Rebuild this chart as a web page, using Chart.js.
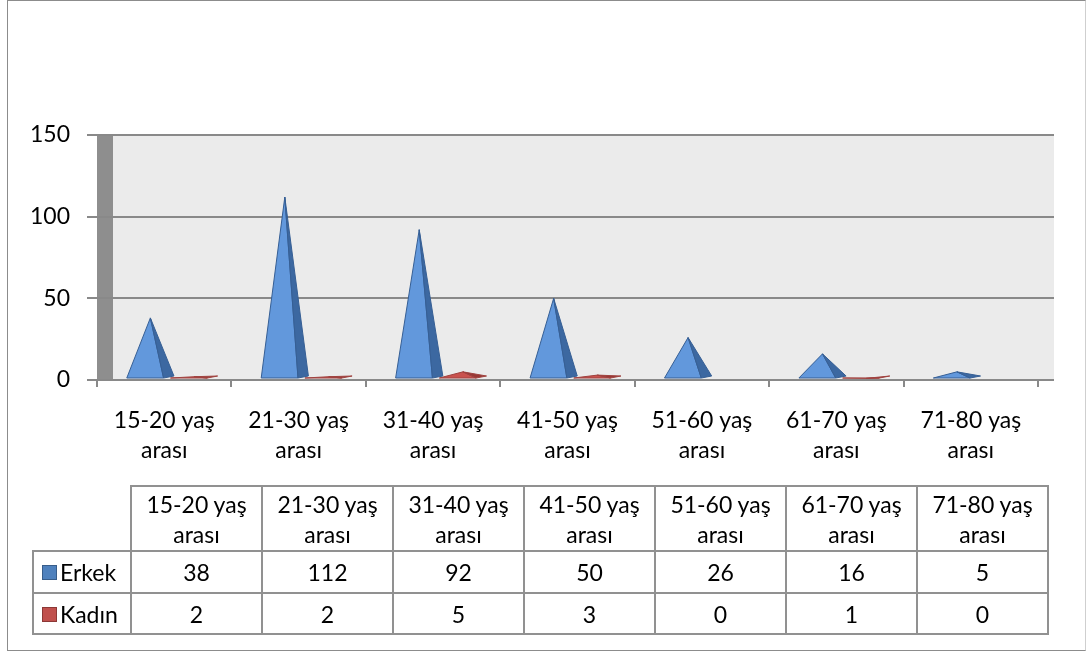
<!DOCTYPE html>
<html>
<head>
<meta charset="utf-8">
<script src="https://cdn.jsdelivr.net/npm/chart.js@4/dist/chart.umd.min.js"></script>
<style>
  html, body { margin: 0; padding: 0; background: #fff; }
  #wrap { position: relative; width: 1086px; height: 652px; overflow: hidden; font-family: Lato, "Open Sans", sans-serif; }
  #frame { position: absolute; left: 7px; top: 0; width: 1079px; height: 651px; box-sizing: border-box;
           border: 1px solid #8c8c8c; border-right-color: #cfcfcf; }
  #chart { position: absolute; left: 0; top: 0; }
  #tbl { position: absolute; left: 32px; top: 485px; border-collapse: collapse; table-layout: fixed;
         font-family: Lato, "Open Sans", sans-serif; font-size: 23px; color: #000; }
  #tbl td, #tbl th { border: 2px solid #919191; padding: 0; text-align: center; font-weight: normal;
                     line-height: 30px; vertical-align: middle; }
  #tbl tr.hd td { height: 63px; }
  #tbl tr.r1 td, #tbl tr.r1 th { height: 40px; }
  #tbl tr.r2 td, #tbl tr.r2 th { height: 39px; }
  #tbl td.corner { border-top: none; border-left: none; }
  #tbl th { text-align: left; padding-left: 8px; white-space: nowrap; }
  .sw { display: inline-block; width: 15px; height: 15px; margin-right: 3px; vertical-align: 1px; box-sizing: border-box; }
</style>
</head>
<body>
<div id="wrap">
  <div id="frame"></div>
  <canvas id="chart" width="1086" height="652"></canvas>
  <table id="tbl"></table>
</div>
<script>
// Age groups and counts per group
const ageGroups = ['15-20 yaş arası', '21-30 yaş arası', '31-40 yaş arası', '41-50 yaş arası',
                   '51-60 yaş arası', '61-70 yaş arası', '71-80 yaş arası'];
const erkek = [38, 112, 92, 50, 26, 16, 5];
const kadin = [2, 2, 5, 3, 0, 1, 0];
const seriesNames = ['Erkek', 'Kadın'];
const yTicks = [0, 50, 100, 150];

// Two-line label: "15-20 yaş" / "arası"
function splitLabel(s) {
  const i = s.lastIndexOf(' ');
  return [s.slice(0, i), s.slice(i + 1)];
}

const DEPTH = 16;          // horizontal depth of the 3D walls
const GRID = '#898989';
const FONT = { family: 'Lato', size: 23, lineHeight: 30 / 23 };

const palettes = [
  { light: '#6298dc', dark: '#3c68a1', edge: '#365f95', swatch: '#4f81bd', swEdge: '#385d8a' },
  { light: '#c9524e', dark: '#983835', edge: '#a04340', swatch: '#c0504d', swEdge: '#8c3836' }
];

// Walls, gridlines and floor of the 3D plot area
const wallsPlugin = {
  id: 'walls',
  beforeDatasetsDraw(chart) {
    const { ctx, chartArea: a, scales: { y } } = chart;
    ctx.save();
    ctx.fillStyle = '#ebebeb';
    ctx.fillRect(a.left + DEPTH, a.top, a.right - a.left, a.bottom - a.top);
    ctx.fillStyle = '#8e8e8e';
    ctx.fillRect(a.left, a.top, DEPTH, a.bottom - a.top);
    ctx.strokeStyle = GRID;
    ctx.lineWidth = 2;
    yTicks.forEach(v => {
      const py = Math.round(y.getPixelForValue(v));
      ctx.beginPath();
      ctx.moveTo(a.left, py);
      ctx.lineTo(a.right + DEPTH, py);
      ctx.stroke();
    });
    ctx.restore();
  },
  // Pyramids drawn over each bar element's position
  afterDatasetsDraw(chart) {
    const { ctx } = chart;
    ctx.save();
    for (let d = chart.data.datasets.length - 1; d >= 0; d--) {
      const meta = chart.getDatasetMeta(d);
      const pal = palettes[d];
      meta.data.forEach((el, i) => {
        if (!chart.data.datasets[d].data[i]) return;
        const cx = el.x + DEPTH / 2;
        const half = el.width * 0.6;
        const base = el.base - 1;
        const top = el.y;
        const split = cx + half * 0.56;
        ctx.lineJoin = 'round';
        ctx.beginPath();
        ctx.moveTo(cx - half, base);
        ctx.lineTo(split, base);
        ctx.lineTo(cx, top);
        ctx.closePath();
        ctx.fillStyle = pal.light;
        ctx.fill();
        ctx.strokeStyle = pal.edge;
        ctx.lineWidth = 1;
        ctx.stroke();
        ctx.beginPath();
        ctx.moveTo(split, base);
        ctx.lineTo(cx + half, base - 2);
        ctx.lineTo(cx, top);
        ctx.closePath();
        ctx.fillStyle = pal.dark;
        ctx.fill();
        ctx.stroke();
      });
    }
    ctx.restore();
  }
};

new Chart(document.getElementById('chart'), {
  type: 'bar',
  data: {
    labels: ageGroups,
    datasets: [
      { label: seriesNames[0], data: erkek, backgroundColor: 'rgba(0,0,0,0)' },
      { label: seriesNames[1], data: kadin, backgroundColor: 'rgba(0,0,0,0)' }
    ]
  },
  options: {
    responsive: false,
    animation: false,
    categoryPercentage: 0.65,
    barPercentage: 0.9,
    layout: { padding: { top: 135, right: 48, bottom: 182, left: 0 } },
    plugins: { legend: { display: false }, tooltip: { enabled: false } },
    scales: {
      x: {
        grid: { offset: true, drawOnChartArea: false, tickLength: 7, color: GRID, lineWidth: 2 },
        border: { display: false },
        ticks: { font: FONT, color: '#000', padding: 19, maxRotation: 0, autoSkip: false,
                 callback(v) { return splitLabel(this.getLabelForValue(v)); } },
        afterFit(s) { s.height = 90; }
      },
      y: {
        min: 0, max: 150,
        ticks: { stepSize: 50, font: { family: 'Lato', size: 23 }, color: '#000', padding: 17 },
        grid: { drawOnChartArea: false, tickLength: 10, color: GRID, lineWidth: 2 },
        border: { display: false },
        afterFit(s) { s.width = 97; }
      }
    }
  },
  plugins: [wallsPlugin]
});

// Data table under the chart
const tbl = document.getElementById('tbl');
const cols = '<colgroup><col style="width:98px">' + ageGroups.map(() => '<col style="width:131px">').join('') + '</colgroup>';
let html = cols + '<tr class="hd"><td class="corner"></td>' +
  ageGroups.map(g => '<td>' + splitLabel(g).join('<br>') + '</td>').join('') + '</tr>';
[erkek, kadin].forEach((vals, k) => {
  const p = palettes[k];
  html += '<tr class="r' + (k + 1) + '"><th><span class="sw" style="background:' + p.swatch +
    ';border:1px solid ' + p.swEdge + '"></span>' + seriesNames[k] + '</th>' +
    vals.map(v => '<td>' + v + '</td>').join('') + '</tr>';
});
tbl.innerHTML = html;
</script>
</body>
</html>
